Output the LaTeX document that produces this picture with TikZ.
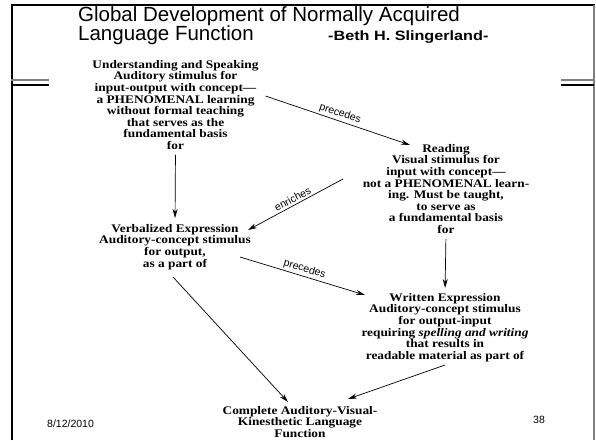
\documentclass[tikz,border=0pt]{standalone}
\usepackage{fontspec}
\setmainfont{Liberation Serif}
\setsansfont{Liberation Sans}
\newfontfamily\bodyfont[FakeStretch=1.15, Ligatures=TeX]{Liberation Serif}
\newfontfamily\widesans[FakeStretch=1.2]{Liberation Sans}
\usetikzlibrary{arrows.meta}

\tikzset{
	box/.style={align=center, inner sep=0pt, anchor=north, font=\bodyfont\bfseries\fontsize{11.6}{11.6}\selectfont},
	link/.style={-{Stealth[length=9pt,width=5pt]}, line width=0.7pt},
	tag/.style={midway, above, sloped, inner sep=2pt, font=\sffamily\fontsize{10.5}{11}\selectfont},
	head/.style={anchor=base west, inner sep=0pt, font=\sffamily\fontsize{20.5}{20}\selectfont},
	foot/.style={anchor=base west, inner sep=0pt, font=\sffamily\fontsize{10.5}{11}\selectfont},
}

\begin{document}
\begin{tikzpicture}[x=1pt, y=-1pt]
	\useasboundingbox (0,0) rectangle (596,440);
	% Frame
	\draw [line width=2pt] (11.5,440) -- (11.5,5) -- (595,5);
	\draw [line width=1.2pt, gray] (594,5) -- (594,440);
	\foreach \x/\X in {11/49, 561/594} {
		\draw [line width=1.2pt, gray] (\x,80) -- (\X,80);
		\draw [line width=1.2pt] (\x,85) -- (\X,85);
	}

	% Title
	\node [head] (title) at (78,21) {Global Development of Normally Acquired};
	\node [head] (title2) at (78,40) {Language Function};
	\node [anchor=base west, inner sep=0pt, font=\widesans\bfseries\fontsize{13.5}{14}\selectfont] (author) at (328,40) {-Beth H. Slingerland-};

	% Blocks
	\node [box] (speak) at (175.5,60) {Understanding and Speaking\\Auditory stimulus for\\input-output with concept---\\a PHENOMENAL learning\\without formal teaching\\that serves as the\\fundamental basis\\for};
	\node [box] (read) at (446,144) {Reading\\Visual stimulus for\\input with concept---\\not a PHENOMENAL learn-\\ing. Must be taught,\\to serve as\\a fundamental basis\\for};
	\node [box] (verb) at (175,224) {Verbalized Expression\\Auditory-concept stimulus\\for output,\\as a part of};
	\node [box] (writ) at (445,293) {Written Expression\\Auditory-concept stimulus\\for output-input\\requiring \textit{spelling and writing}\\that results in\\readable material as part of};
	\node [box] (comp) at (300,406) {Complete Auditory-Visual-\\Kinesthetic Language\\Function};

	% Links
	\draw [link, shorten <=5pt, shorten >=6pt] (speak.south) -- (verb.north);
	\draw [link, shorten <=5pt, shorten >=5pt] (read.south) -- (writ.north);
	\draw [link] ([shift={(90,36)}]speak.north) -- node[tag] {precedes} ([shift={(-36,1)}]read.north);
	\draw [link] ([shift={(-103,35)}]read.north) -- node[tag] {enriches} ([shift={(73,6)}]verb.north);
	\draw [link] ([shift={(65,33)}]verb.north) -- node[tag] {precedes} ([shift={(-80,2)}]writ.north);
	\draw [link] ([shift={(-2,53)}]verb.north) -- ([shift={(-12,-4)}]comp.north);
	\draw [link] ([shift={(0,72)}]writ.north) -- ([shift={(48,-7)}]comp.north);

	% Footer
	\node [foot] (date) at (47,427) {8/12/2010};
	\node [foot] (page) at (533,423) {38};
\end{tikzpicture}
\end{document}
